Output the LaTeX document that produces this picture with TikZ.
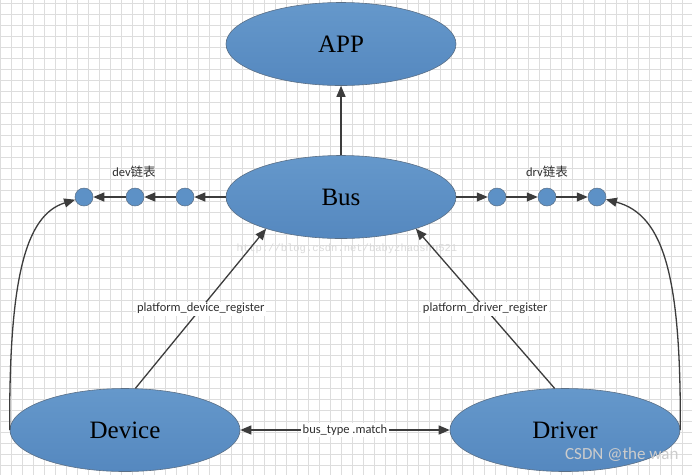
\documentclass[tikz,border=0pt]{standalone}
\usepackage{fontspec}
\setmainfont{Liberation Serif}
\newfontfamily\lbl{Carlito}
\newfontfamily\wmfont{Liberation Mono}
\newfontfamily\cjk{Noto Sans CJK SC}
\usetikzlibrary{shapes.geometric,arrows.meta}
\definecolor{ellblue}{HTML}{5D91C6}
\definecolor{elltop}{HTML}{6598CB}
\definecolor{ellbot}{HTML}{5588BF}
\definecolor{ellborder}{HTML}{5A6F86}
\definecolor{arrowgray}{HTML}{3C3C3C}
\definecolor{gridgray}{HTML}{DDDDDD}
\definecolor{txtgray}{HTML}{2E2E2E}
\tikzset{
  bigell/.style={ellipse, draw=ellborder, line width=0.6pt, top color=elltop, bottom color=ellbot,
    minimum width=230pt, minimum height=83pt, inner sep=0pt, font=\fontsize{25}{28}\selectfont},
  dot/.style={circle, draw=ellborder, line width=0.5pt, fill=ellblue, minimum size=18pt, inner sep=0pt},
  arr/.style={draw=arrowgray, line width=1.3pt, -{Triangle[length=11pt,width=9pt]}},
  darr/.style={draw=arrowgray, line width=1.3pt, {Triangle[length=11pt,width=9pt]}-{Triangle[length=11pt,width=9pt]}},
  lab/.style={font=\lbl\fontsize{12.5}{14}\selectfont, text=txtgray, fill=white, inner sep=1.5pt},
  toplab/.style={font=\lbl\fontsize{12.5}{14}\selectfont, text=txtgray},
}
\begin{document}
\begin{tikzpicture}[x=1pt,y=-1pt]
\useasboundingbox (0,0) rectangle (692,475);
\fill[white] (0,0) rectangle (692,475);
% grid
\foreach \gx in {0,11,...,692} \draw[gridgray, line width=0.9pt] (\gx,0) -- (\gx,475);
\foreach \gy in {3,14,...,475} \draw[gridgray, line width=0.9pt] (0,\gy) -- (692,\gy);

\node[bigell] (app) at (341,44) {APP};
\node[bigell] (bus) at (341,197) {Bus};
\node[bigell] (dev) at (125,430) {Device};
\node[bigell] (drv) at (565,430) {Driver};

\node[dot] (d1) at (84,197) {};
\node[dot] (d2) at (135,197) {};
\node[dot] (d3) at (185,197) {};
\node[dot] (r1) at (497,197) {};
\node[dot] (r2) at (547,197) {};
\node[dot] (r3) at (597,197) {};

\node[toplab] (devlab) at (134,172) {dev{\cjk 链表}};
\node[toplab] (drvlab) at (547,172) {drv{\cjk 链表}};

\draw[arr] (bus.north) -- (app.south);
\draw[arr] (bus.west) -- (d3);
\draw[arr] (d3) -- (d2);
\draw[arr] (d2) -- (d1);
\draw[arr] (bus.east) -- (r1);
\draw[arr] (r1) -- (r2);
\draw[arr] (r2) -- (r3);

% watermark (behind labels)
\node[text=black!15, font=\wmfont\fontsize{10.5}{12}\selectfont] (wm) at (347,249) {http://blog.csdn.net/babyzhaoshu521};

\draw[arr] (dev.76) -- node[lab] (pdr) {platform\_device\_register} (bus.203);
\draw[arr] (drv.104) -- node[lab] (pdrv) {platform\_driver\_register} (bus.337);
\draw[darr] (dev.east) -- node[lab] (match) {bus\_type .match} (drv.west);

\draw[arr] (dev.west) .. controls (9,280) and (25,215) .. (d1);
\draw[arr] (drv.east) .. controls (681,280) and (665,215) .. (r3);

\node[text=white!80!black, font=\lbl\fontsize{17}{20}\selectfont, anchor=east] (csdn) at (682,455) {CSDN @the wan};
\end{tikzpicture}
\end{document}
